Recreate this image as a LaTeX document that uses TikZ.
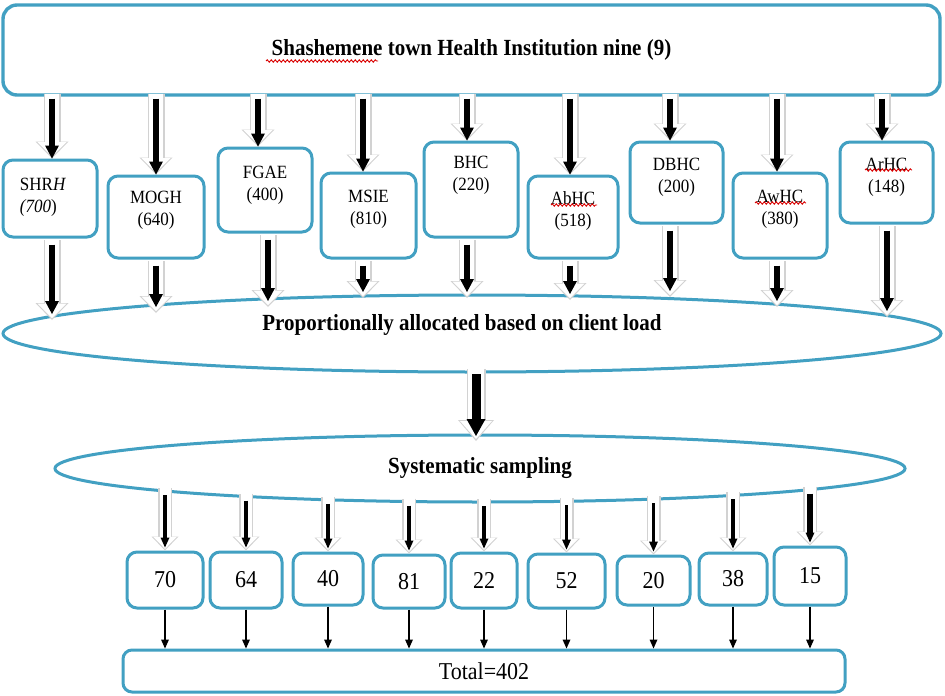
\documentclass[tikz,border=0pt]{standalone}
\usepackage{graphicx}
\usepackage{fontspec}
\setmainfont{Liberation Serif}
\usetikzlibrary{arrows.meta,shapes.geometric,decorations.pathmorphing}
\definecolor{boxblue}{RGB}{66,160,194}
\newcommand\tx[1]{\scalebox{1}[1.1]{#1}}
\newcommand\mb[4]{\parbox[c][#2pt][t]{#1pt}{\centering\vspace*{#3pt}#4}}
\newcommand\BA[5]{\draw[g#1,#2] #4 -- #5; \draw[w#1,#2] #4 -- #5; \draw[k#1,#3] #4 -- #5;}
\begin{document}
\begin{tikzpicture}[x=1pt,y=-1pt]
\tikzset{
 rbox/.style={draw=boxblue, line width=3pt, rounded corners=10pt, fill=white, inner sep=0pt},
 midtxt/.style={font=\fontsize{17}{22}\selectfont},
 numtxt/.style={font=\fontsize{22}{26}\selectfont},
 bigtxt/.style={font=\bfseries\fontsize{21}{25}\selectfont},
 ell/.style={ellipse, draw=boxblue, line width=3pt, fill=white, inner sep=0pt},
 gA/.style={draw=gray!35, line width=17pt, -{Triangle[length=17pt,width=33pt,line width=0pt]}},
 wA/.style={draw=white, line width=14pt, shorten >=1.8pt, -{Triangle[length=14.5pt,width=29pt,line width=0pt]}},
 kA/.style={draw=black, line width=6pt, -{Triangle[length=13pt,width=14pt,line width=0pt]}},
 gM/.style={draw=gray!35, line width=19pt, -{Triangle[length=21pt,width=36pt,line width=0pt]}},
 wM/.style={draw=white, line width=15.5pt, shorten >=2pt, -{Triangle[length=18pt,width=32pt,line width=0pt]}},
 kM/.style={draw=black, line width=9pt, -{Triangle[length=17pt,width=19pt,line width=0pt]}},
 gS/.style={draw=gray!35, line width=14pt, -{Triangle[length=14pt,width=27pt,line width=0pt]}},
 wS/.style={draw=white, line width=11pt, shorten >=1.7pt, -{Triangle[length=12pt,width=23.5pt,line width=0pt]}},
 kS/.style={draw=black, line width=3.5pt, -{Triangle[length=10pt,width=9pt,line width=0pt]}},
 thinarr/.style={draw=black, line width=1.2pt, -{Triangle[length=9pt,width=8pt,line width=0pt]}},
 wavy/.style={draw=red!85!black, line width=0.9pt, decorate, decoration={snake, amplitude=1.2pt, segment length=4pt}},
}
\fill[white] (0,0) rectangle (945,696);
\useasboundingbox (0,0) rectangle (945,696);

% top box
\node[rbox, rounded corners=14pt, line width=3.4pt, minimum width=937pt, minimum height=90pt, bigtxt] (top) at (471.5,50) {\tx{Shashemene town Health Institution nine (9)}};

% middle row
\node[rbox, midtxt] (s1) at (50,198.5) {\mb{94}{77}{18.5}{\raggedright\hspace*{17pt}\tx{SHR\textit{H}}\\\hspace*{17pt}\tx{\textit{(700})}}};
\node[rbox, midtxt] (s2) at (156,217) {\mb{96}{82}{15.5}{\tx{MOGH}\\\tx{(640)}}};
\node[rbox, midtxt] (s3) at (265,190) {\mb{94}{84}{18.5}{\tx{FGAE}\\\tx{(400)}}};
\node[rbox, midtxt] (s4) at (368.5,215.5) {\mb{95}{85}{17.5}{\tx{MSIE}\\\tx{(810)}}};
\node[rbox, midtxt] (s5) at (471,189.5) {\mb{94}{95}{14.5}{\tx{BHC}\\\tx{(220)}}};
\node[rbox, midtxt] (s6) at (573,217) {\mb{90}{82}{15.5}{\tx{AbHC}\\\tx{(518)}}};
\node[rbox, midtxt] (s7) at (676.5,182.5) {\mb{93}{81}{16.5}{\tx{DBHC}\\\tx{(200)}}};
\node[rbox, midtxt] (s8) at (780,215.5) {\mb{94}{85}{17.5}{\tx{AwHC}\\\tx{(380)}}};
\node[rbox, midtxt] (s9) at (886.5,182.5) {\mb{93}{81}{16.5}{\tx{ArHC}\\\tx{(148)}}};

% ellipses
\node[ell, minimum width=938pt, minimum height=77pt,
      label={[bigtxt, xshift=-10pt, yshift=8.5pt]center:\tx{Proportionally allocated based on client load}}] (e1) at (472,333.5) {};
\node[ell, minimum width=850pt, minimum height=67pt, bigtxt] (e2) at (480,468.5) {\tx{Systematic sampling}};

% bottom row
\node[rbox, numtxt, minimum width=76pt, minimum height=56pt] (b1) at (165,580) {\tx{70}};
\node[rbox, numtxt, minimum width=72pt, minimum height=56pt] (b2) at (246,580) {\tx{64}};
\node[rbox, numtxt, minimum width=70pt, minimum height=52pt] (b3) at (328,579) {\tx{40}};
\node[rbox, numtxt, minimum width=72pt, minimum height=53pt] (b4) at (409,581.5) {\tx{81}};
\node[rbox, numtxt, minimum width=66pt, minimum height=55pt] (b5) at (484,580.5) {\tx{22}};
\node[rbox, numtxt, minimum width=77pt, minimum height=54pt] (b6) at (566.5,581) {\tx{52}};
\node[rbox, numtxt, minimum width=73pt, minimum height=49pt] (b7) at (653.5,580.5) {\tx{20}};
\node[rbox, numtxt, minimum width=68pt, minimum height=52pt] (b8) at (733,579) {\tx{38}};
\node[rbox, numtxt, minimum width=72pt, minimum height=58pt] (b9) at (810,576) {\tx{15}};

\node[rbox, numtxt, rounded corners=9pt, minimum width=722pt, minimum height=42pt] (tot) at (484,671) {\tx{Total=402}};

% spell-check underlines
\draw[wavy] (266,61) -- (378,61);
\draw[wavy] (551,205) -- (597,205);
\draw[wavy] (755,203) -- (806,203);
\draw[wavy] (865,170) -- (912,170);

% coordinates on the ellipses
\coordinate (c1) at (52,320);
\coordinate (c2) at (156,313);
\coordinate (c3) at (268,307);
\coordinate (c4) at (363,298);
\coordinate (c5) at (467,298);
\coordinate (c6) at (570,300);
\coordinate (c7) at (670,297);
\coordinate (c8) at (777,307);
\coordinate (c9) at (887,317);
\coordinate (m1) at (476,369);
\coordinate (m2) at (476,441);
\coordinate (q1) at (165,488);
\coordinate (q2) at (246,493.5);
\coordinate (q3) at (328,496.8);
\coordinate (q4) at (409,498.5);
\coordinate (q5) at (484,499);
\coordinate (q6) at (566.5,498.3);
\coordinate (q7) at (653.5,496);
\coordinate (q8) at (733,492.4);
\coordinate (q9) at (810,486.6);

% top arrows
\BA{A}{shorten <=-3pt}{shorten <=2pt}{([xshift=2pt]s1.north |- top.south)}{([xshift=2pt]s1.north)}
\BA{A}{shorten <=-3pt}{shorten <=2pt}{(s2.north |- top.south)}{(s2.north)}
\BA{A}{shorten <=-3pt}{shorten <=2pt}{([xshift=-7pt]s3.north |- top.south)}{([xshift=-7pt]s3.north)}
\BA{A}{shorten <=-3pt}{shorten <=2pt}{([xshift=-5.5pt]s4.north |- top.south)}{([xshift=-5.5pt]s4.north)}
\BA{A}{shorten <=-3pt}{shorten <=2pt}{([xshift=-4pt]s5.north |- top.south)}{([xshift=-4pt]s5.north)}
\BA{A}{shorten <=-3pt}{shorten <=2pt}{([xshift=-3pt]s6.north |- top.south)}{([xshift=-3pt]s6.north)}
\BA{A}{shorten <=-3pt}{shorten <=2pt}{([xshift=-6.5pt]s7.north |- top.south)}{([xshift=-6.5pt]s7.north)}
\BA{A}{shorten <=-3pt}{shorten <=2pt}{([xshift=-3pt]s8.north |- top.south)}{([xshift=-3pt]s8.north)}
\BA{A}{shorten <=-3pt}{shorten <=2pt}{([xshift=-4.5pt]s9.north |- top.south)}{([xshift=-4.5pt]s9.north)}

% middle row to ellipse
\BA{A}{shorten <=1.5pt}{shorten <=6pt, shorten >=6pt}{([xshift=2pt]s1.south)}{(c1)}
\BA{A}{shorten <=1.5pt}{shorten <=6pt, shorten >=6pt}{(s2.south)}{(c2)}
\BA{A}{shorten <=1.5pt}{shorten <=6pt, shorten >=6pt}{([xshift=3pt]s3.south)}{(c3)}
\BA{A}{shorten <=1.5pt}{shorten <=6pt, shorten >=6pt}{([xshift=-5.5pt]s4.south)}{(c4)}
\BA{A}{shorten <=1.5pt}{shorten <=6pt, shorten >=6pt}{([xshift=-4pt]s5.south)}{(c5)}
\BA{A}{shorten <=1.5pt}{shorten <=6pt, shorten >=6pt}{([xshift=-3pt]s6.south)}{(c6)}
\BA{A}{shorten <=1.5pt}{shorten <=6pt, shorten >=6pt}{([xshift=-6.5pt]s7.south)}{(c7)}
\BA{A}{shorten <=1.5pt}{shorten <=6pt, shorten >=6pt}{([xshift=-3pt]s8.south)}{(c8)}
\BA{A}{shorten <=1.5pt}{shorten <=6pt, shorten >=6pt}{([xshift=0.5pt]s9.south)}{(c9)}

% middle arrow
\BA{M}{}{shorten <=5pt, shorten >=5pt}{(m1)}{(m2)}

% ellipse 2 to bottom boxes
\BA{S}{}{shorten <=7pt, shorten >=3pt}{(q1)}{(b1.north)}
\BA{S}{}{shorten <=7pt, shorten >=3pt}{(q2)}{(b2.north)}
\BA{S}{}{shorten <=7pt, shorten >=3pt}{(q3)}{(b3.north)}
\BA{S}{}{shorten <=7pt, shorten >=3pt}{(q4)}{(b4.north)}
\BA{S}{}{shorten <=7pt, shorten >=3pt}{(q5)}{(b5.north)}
\BA{S}{}{shorten <=7pt, shorten >=3pt}{(q6)}{(b6.north)}
\BA{S}{}{shorten <=7pt, shorten >=3pt}{(q7)}{(b7.north)}
\BA{S}{}{shorten <=7pt, shorten >=3pt}{(q8)}{(b8.north)}
\BA{S}{}{shorten <=7pt, shorten >=3pt, line width=5.5pt}{(q9)}{(b9.north)}

% thin arrows to total
\foreach \b in {b1,b2,b3,b4,b5,b6,b7,b8,b9}
  \draw[thinarr] (\b.south) -- (\b.south |- tot.north);
\end{tikzpicture}
\end{document}
